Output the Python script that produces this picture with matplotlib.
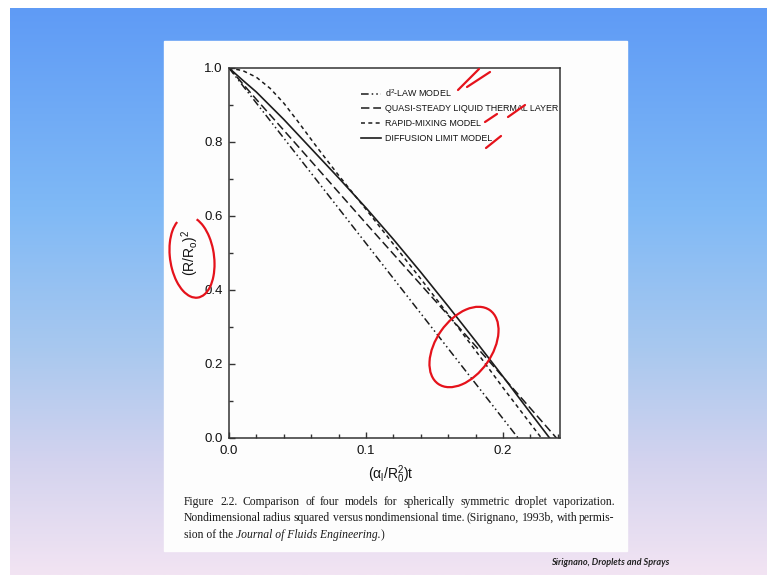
# Third party modules #
import numpy as np
import matplotlib
matplotlib.use('Agg')
from matplotlib import pyplot as plt
from matplotlib import font_manager
from matplotlib.colors import LinearSegmentedColormap
from matplotlib.patches import Rectangle, Ellipse, Arc
from matplotlib.ticker import MultipleLocator

################################################################################
# Curves: nondimensional time vs (R/R0)^2 #
t_d2  = [0.0, 0.211]
r2_d2 = [1.0, 0.0]

t_qs  = [0.0, 0.02, 0.05, 0.10, 0.15, 0.19, 0.239]
r2_qs = [1.0, 0.915, 0.790, 0.580, 0.373, 0.207, 0.0]

t_rm  = [0.0, 0.01, 0.02, 0.03, 0.04, 0.05, 0.065, 0.08, 0.10, 0.12, 0.14, 0.16, 0.18, 0.20, 0.228]
r2_rm = [1.0, 0.993, 0.975, 0.945, 0.905, 0.857, 0.782, 0.710, 0.618, 0.524, 0.430, 0.334, 0.236, 0.136, 0.0]

t_dl  = [0.0, 0.01, 0.02, 0.04, 0.06, 0.08, 0.10, 0.12, 0.14, 0.16, 0.18, 0.20, 0.22, 0.234]
r2_dl = [1.0, 0.967, 0.935, 0.861, 0.782, 0.703, 0.622, 0.537, 0.448, 0.356, 0.262, 0.166, 0.068, 0.0]

x_ticks       = [0.0, 0.1, 0.2]
x_tick_labels = ['0.0', '0.1', '0.2']
y_ticks       = [0.0, 0.2, 0.4, 0.6, 0.8, 1.0]
y_tick_labels = ['0.0', '0.2', '0.4', '0.6', '0.8', '1.0']

legend_labels = ['d$^2$-LAW MODEL',
                 'QUASI-STEADY LIQUID THERMAL LAYER',
                 'RAPID-MIXING MODEL',
                 'DIFFUSION LIMIT MODEL']

caption_1 = "Figure 2.2. Comparison of four models for spherically symmetric droplet vaporization."
caption_2 = "Nondimensional radius squared versus nondimensional time. (Sirignano, 1993b, with permis-"
caption_3 = [("sion of the", 'normal'), ("Journal of Fluids Engineering.", 'italic'), (")", 'normal')]
credit = "Sirignano, Droplets and Sprays"

################################################################################
W, H = 767, 575
fx = lambda px: px / W
fy = lambda py: 1 - py / H

# Fonts #
names = {f.name for f in font_manager.fontManager.ttflist}
narrow = 'Liberation Sans Narrow' in names
legend_family = 'Liberation Sans Narrow' if narrow else 'Liberation Sans'
legend_size = 8.0 if narrow else 6.4
plt.rcParams['font.family'] = ['Liberation Sans', 'DejaVu Sans']
plt.rcParams['mathtext.fontset'] = 'custom'
plt.rcParams['mathtext.rm'] = 'Liberation Sans'
plt.rcParams['mathtext.it'] = 'Liberation Sans:italic'

fig = plt.figure(figsize=(W / 100, H / 100), dpi=100, facecolor='white')

# Slide background #
bg = fig.add_axes([0, 0, 1, 1], zorder=0)
cmap = LinearSegmentedColormap.from_list('slide', [(0.0, '#5f9bf5'), (0.35, '#7fb9f6'),
                                                   (0.6, '#a8c8ef'), (0.8, '#d3d3ee'),
                                                   (1.0, '#f2e4f3')])
bg.imshow(np.linspace(0, 1, 256).reshape(-1, 1), cmap=cmap, extent=(10, W, H, 8), aspect='auto')
bg.add_patch(Rectangle((164, 41), 463, 510, color='#fdfdfd'))
bg.set_xlim(0, W)
bg.set_ylim(H, 0)
bg.axis('off')

# Main axes #
ax = fig.add_axes([fx(229), fy(438), 331 / W, 370 / H], zorder=1)
ax.set_facecolor('#fdfdfd')
ink = '#1c1c1c'
ax.plot(t_d2, r2_d2, color=ink, lw=1.1, dashes=(5, 2, 1, 2, 1, 2), label=legend_labels[0])
ax.plot(t_qs, r2_qs, color=ink, lw=1.1, dashes=(5.5, 2.5), label=legend_labels[1])
ax.plot(t_rm, r2_rm, color=ink, lw=1.1, dashes=(2.6, 2.2), label=legend_labels[2])
ax.plot(t_dl, r2_dl, color=ink, lw=1.2, label=legend_labels[3])

ax.set_xlim(0, 0.2416)
ax.set_ylim(0, 1.0)
ax.set_xticks(x_ticks)
ax.set_xticklabels(x_tick_labels)
ax.set_yticks(y_ticks)
ax.set_yticklabels(y_tick_labels)
ax.xaxis.set_minor_locator(MultipleLocator(0.02))
ax.yaxis.set_minor_locator(MultipleLocator(0.1))
ax.tick_params(which='both', direction='in', color='#333333', width=1.0, labelsize=9.5,
               labelcolor='#111111')
ax.tick_params(which='major', length=4)
ax.tick_params(which='minor', length=3)
ax.tick_params(axis='x', pad=5)
ax.tick_params(axis='y', pad=4.5)
for s in ax.spines.values():
    s.set_color('#333333')
    s.set_linewidth(1.1)

ax.set_xlabel(r'$\mathrm{(\alpha_l/R_0^2)t}$', fontsize=10, color='#111111')
ax.xaxis.set_label_coords(0.49, -0.068)
ax.set_ylabel(r'$\mathrm{(R/R_o)^2}$', fontsize=10, color='#111111')
ax.yaxis.set_label_coords(-0.085, 0.5)

leg = ax.legend(loc='upper left', bbox_to_anchor=(fx(361), fy(87)), bbox_transform=fig.transFigure,
                frameon=False, borderpad=0, borderaxespad=0, handlelength=2.2,
                handletextpad=0.5, labelspacing=0.65,
                prop={'family': legend_family, 'size': legend_size})
for txt in leg.get_texts():
    txt.set_color('#111111')

# Caption, justified like the book #
r = fig.canvas.get_renderer()
serif = {'family': 'Liberation Serif', 'color': '#1a1a1a'}
size = 8.4

def justify(line, y, x0=184, x1=615):
    words = line.split(' ')
    ts = [fig.text(0, fy(y), w, fontsize=size, va='baseline', **serif) for w in words]
    widths = [t.get_window_extent(r).width for t in ts]
    gap = (x1 - x0 - sum(widths)) / (len(words) - 1)
    x = x0
    for t, w in zip(ts, widths):
        t.set_x(fx(round(x)))
        x += w + gap

justify(caption_1, 505)
justify(caption_2, 521)
x = 184
sp = size * 1.39 * 0.25
for seg, style in caption_3:
    t = fig.text(fx(round(x)), fy(538), seg, fontsize=size, va='baseline', style=style, **serif)
    x += t.get_window_extent(r).width + (sp if seg != caption_3[-2][0] else 0)

fig.text(fx(669), fy(565), credit, ha='right', va='baseline', fontsize=6.6,
         family='Lato', style='italic', weight='bold', color='#222222')

# Red pen marks from the lecture #
ov = fig.add_axes([0, 0, 1, 1], zorder=3)
ov.set_xlim(0, W)
ov.set_ylim(H, 0)
ov.axis('off')
pen = dict(color='#e5121b', lw=1.6, solid_capstyle='round')
ov.add_patch(Arc((192, 257), 44, 82, angle=-8, theta1=285, theta2=615, color=pen['color'], lw=pen['lw']))
ov.add_patch(Ellipse((464, 347), 90, 56, angle=-55, fill=False, edgecolor=pen['color'], lw=pen['lw']))
for (xa, ya), (xb, yb) in [((458, 90), (479, 69)), ((467, 87), (490, 72)),
                           ((485, 122), (497, 114)), ((508, 117), (525, 105)),
                           ((486, 148), (501, 136))]:
    ov.plot([xa, xb], [ya, yb], **pen)

fig.savefig('out.png', dpi=100)
